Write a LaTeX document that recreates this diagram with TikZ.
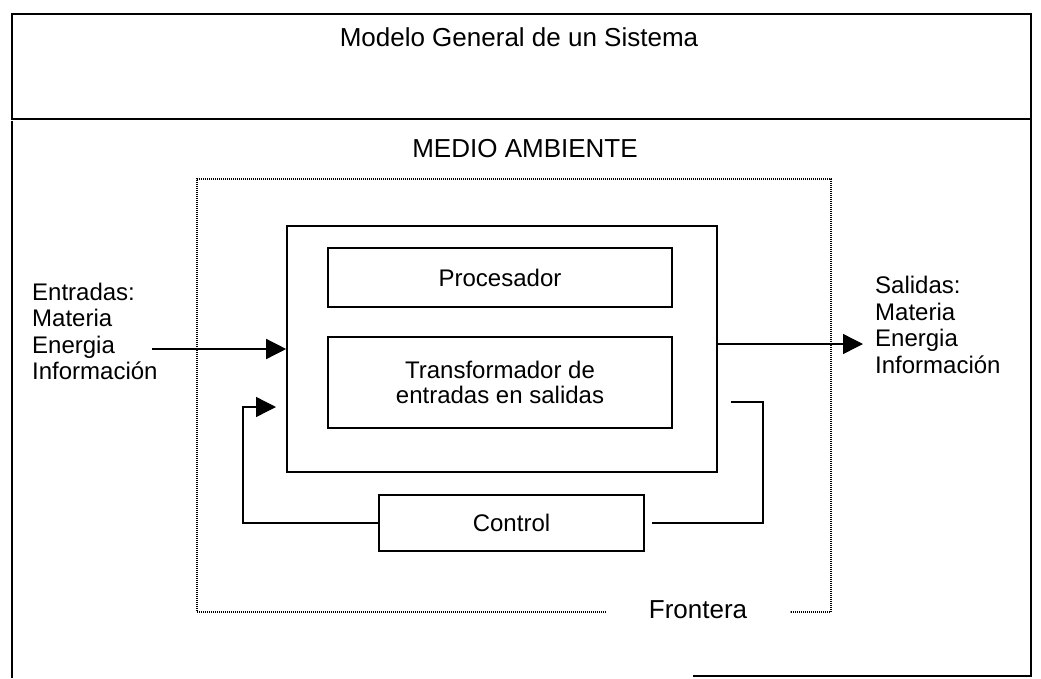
\documentclass[tikz,border=0pt]{standalone}
\usepackage{fontspec}
\setmainfont{Liberation Sans}
\usetikzlibrary{arrows.meta}
\begin{document}
\begin{tikzpicture}[x=1pt,y=-1pt,
  solidline/.style={line width=1.6pt},
  box/.style={draw, line width=1.6pt, inner sep=0pt, align=center, font=\fontsize{24}{25.5}\selectfont},
  frontier/.style={line width=1.4pt, dash pattern=on 0.9pt off 1.1pt},
  lbl/.style={inner sep=0pt, font=\fontsize{24}{26.5}\selectfont},
  biglbl/.style={inner sep=0pt, font=\fontsize{26}{28}\selectfont},
  arr/.style={line width=1.4pt, -{Triangle[length=20pt,width=20pt]}},
]
\useasboundingbox (0,0) rectangle (1041,678);

% title box and outer frame
\node[box, minimum width=1019pt, minimum height=105pt] (topbox) at (521.5,66.5) {};
\node[biglbl, anchor=base] (title) at (519,46) {Modelo General de un Sistema};
\draw[solidline] (12,121) -- (12,678);
\draw[solidline] (1031,119) -- (1031,676) -- (693,676);

\node[biglbl, anchor=base] (env) at (525,157) {MEDIO AMBIENTE};

% boundary (dotted)
\node[biglbl, anchor=base] (front) at (698,618) {Frontera};
\draw[frontier] (606,612) -- (197,612) -- (197,179) -- (831,179) -- (831,612) -- (790,612);

% system
\node[box, minimum width=430pt, minimum height=246pt] (sys) at (502,349) {};
\node[box, minimum width=344pt, minimum height=59pt] (proc) at (500,277.5) {Procesador};
\node[box, minimum width=344pt, minimum height=91pt] (trans) at (500,382.5) {Transformador de\\entradas en salidas};
\node[box, minimum width=265pt, minimum height=56pt] (ctrl) at (511.5,523) {Control};

% inputs
\node[lbl, anchor=north west, align=left] (ent) at (32,282.5) {Entradas:\\Materia\\Energia\\Información};
\coordinate (inS) at (152,349);
\draw[arr] (inS) -- (sys.west);

% outputs
\node[lbl, anchor=north west, align=left] (sal) at (875,276) {Salidas:\\Materia\\Energia\\Información};
\coordinate (outE) at (863,344);
\draw[arr] (sys.east |- outE) -- (outE);

% feedback loop
\coordinate (fbA) at (243,407);
\coordinate (fbT) at (276,407);
\draw[arr] (ctrl.west) -| (fbA) -- (fbT);
\coordinate (rS) at (731,402);
\coordinate (rC) at (763,523);
\coordinate (rE) at (652,523);
\draw[solidline] (rS) -| (rC) -- (rE);
\end{tikzpicture}
\end{document}
